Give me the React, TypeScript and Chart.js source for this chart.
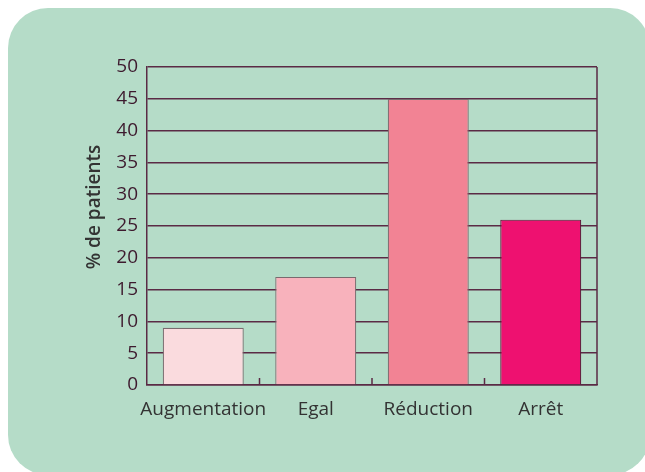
import React, { useEffect, useRef } from "react";
import { Chart, registerables } from "chart.js";

Chart.register(...registerables);

const categories = ["Augmentation", "Egal", "Réduction", "Arrêt"];
const values = [9, 17, 45, 26];
const barColors = ["#fadbde", "#f8b2bc", "#f28394", "#ee1170"];
const barBorders = ["#7a6a6e", "#7a6a6e", "#7a6a6e", "#5a1a38"];
const yTitle = "% de patients";

const LINE = "#5a2a45";
const FONT = "'Open Sans', sans-serif";

export default function App() {
  const ref = useRef<HTMLCanvasElement | null>(null);

  useEffect(() => {
    document.body.style.margin = "0";
    if (!ref.current) return;
    const extras = {
      id: "extras",
      afterDatasetsDraw(chart: any) {
        const { ctx, chartArea } = chart;
        const xs = chart.scales.x;
        ctx.save();
        ctx.strokeStyle = LINE;
        ctx.lineWidth = 1.5;
        // right border
        ctx.beginPath();
        ctx.moveTo(chartArea.right, chartArea.top);
        ctx.lineTo(chartArea.right, chartArea.bottom);
        ctx.stroke();
        // inside category ticks
        for (let i = 1; i < categories.length; i++) {
          const x = (xs.getPixelForValue(i - 1) + xs.getPixelForValue(i)) / 2;
          ctx.beginPath();
          ctx.moveTo(x, chartArea.bottom);
          ctx.lineTo(x, chartArea.bottom - 7);
          ctx.stroke();
        }
        ctx.restore();
        // y title
        ctx.save();
        ctx.fillStyle = "#333333";
        ctx.font = `600 19px ${FONT}`;
        ctx.textAlign = "center";
        ctx.textBaseline = "middle";
        ctx.translate(95, 207);
        ctx.rotate(-Math.PI / 2);
        ctx.fillText(yTitle, 0, 0);
        ctx.restore();
      },
    };
    const chart = new Chart(ref.current, {
      type: "bar",
      data: {
        labels: categories,
        datasets: [
          {
            data: values,
            backgroundColor: barColors,
            borderColor: barBorders,
            borderWidth: 1.2,
            categoryPercentage: 0.72,
            barPercentage: 1,
          },
        ],
      },
      options: {
        animation: false,
        responsive: false,
        maintainAspectRatio: false,
        layout: { padding: { left: 87, right: 48, top: 67, bottom: 47 } },
        plugins: { legend: { display: false }, tooltip: { enabled: false } },
        scales: {
          x: {
            grid: { display: false, drawTicks: false },
            border: { display: true, color: LINE, width: 1.5 },
            ticks: {
              color: "#333333",
              font: { family: FONT, size: 19 },
              padding: 13,
              maxRotation: 0,
              minRotation: 0,
              autoSkip: false,
            },
            afterFit: (s: any) => {
              s.height = 40;
            },
          },
          y: {
            min: 0,
            max: 50,
            ticks: { stepSize: 5, color: "#3d1a2e", font: { family: FONT, size: 19 }, padding: 9 },
            grid: { color: LINE, lineWidth: 1.5, drawTicks: false },
            border: { display: true, color: LINE, width: 1.5 },
            afterFit: (s: any) => {
              s.width = 60;
            },
          },
        },
      },
      plugins: [extras],
    });
    return () => chart.destroy();
  }, []);

  return (
    <div style={{ position: "relative", width: 645, height: 472, overflow: "hidden", background: "#ffffff" }}>
      <div
        style={{
          position: "absolute",
          left: 8,
          top: 8,
          width: 642,
          height: 467,
          background: "#b5dcc8",
          borderRadius: 40,
        }}
      />
      <canvas ref={ref} width={645} height={472} style={{ position: "absolute", left: 0, top: 0 }} />
    </div>
  );
}
